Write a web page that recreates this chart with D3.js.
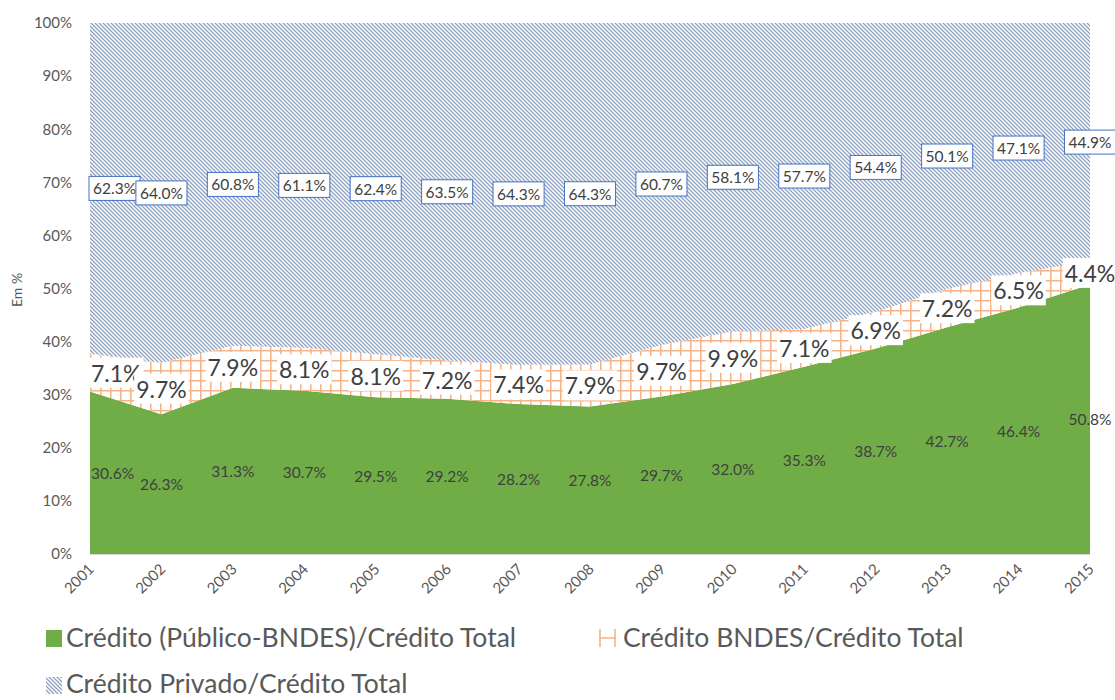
<!DOCTYPE html>
<html>
<head>
<meta charset="utf-8">
<script src="https://cdn.jsdelivr.net/npm/d3@7"></script>
<style>
  body { margin: 0; background: #fff; }
  text { font-family: Lato, "Open Sans", sans-serif; }
</style>
</head>
<body>
<div id="chart"></div>
<script>
// data
var years = ["2001","2002","2003","2004","2005","2006","2007","2008","2009","2010","2011","2012","2013","2014","2015"];
var publico = [30.6, 26.3, 31.3, 30.7, 29.5, 29.2, 28.2, 27.8, 29.7, 32.0, 35.3, 38.7, 42.7, 46.4, 50.8];
var bndes   = [7.1, 9.7, 7.9, 8.1, 8.1, 7.2, 7.4, 7.9, 9.7, 9.9, 7.1, 6.9, 7.2, 6.5, 4.4];
var privado = [62.3, 64.0, 60.8, 61.1, 62.4, 63.5, 64.3, 64.3, 60.7, 58.1, 57.7, 54.4, 50.1, 47.1, 44.9];
var seriesNames = ["Crédito (Público-BNDES)/Crédito Total", "Crédito BNDES/Crédito Total", "Crédito Privado/Crédito Total"];
var yTicks = [0, 0.1, 0.2, 0.3, 0.4, 0.5, 0.6, 0.7, 0.8, 0.9, 1];

var W = 1115, H = 700;
var x0 = 90, x1 = 1090, yBot = 554, yTop = 23;

var rows = years.map(function (yr, i) {
    return { year: yr, publico: publico[i], bndes: bndes[i], privado: privado[i] };
});
var keys = ["publico", "bndes", "privado"];

var stack = d3.stack().keys(keys).offset(d3.stackOffsetExpand);
var layers = stack(rows);

var x = d3.scalePoint().domain(years).range([x0, x1]);
var y = d3.scaleLinear().domain([0, 1]).range([yBot, yTop]);

var svg = d3.select("#chart").append("svg")
    .attr("width", W)
    .attr("height", H);

// patterns
var defs = svg.append("defs");
var diag = defs.append("pattern")
    .attr("id", "diag")
    .attr("patternUnits", "userSpaceOnUse")
    .attr("width", 4).attr("height", 4);
diag.append("rect").attr("width", 4).attr("height", 4).attr("fill", "#fff");
diag.append("path")
    .attr("d", "M-1,-1L5,5M-1,3L1,5M3,-1L5,1")
    .attr("stroke", "#8ea2c2")
    .attr("stroke-width", 1.3);

var grid = defs.append("pattern")
    .attr("id", "grid")
    .attr("patternUnits", "userSpaceOnUse")
    .attr("width", 10).attr("height", 10);
grid.append("rect").attr("width", 10).attr("height", 10).attr("fill", "#fff");
grid.append("path")
    .attr("d", "M0.75,0V10M0,0.75H10")
    .attr("stroke", "#f5b387")
    .attr("stroke-width", 1.6);

var fills = { publico: "#70ad47", bndes: "url(#grid)", privado: "url(#diag)" };

var area = d3.area()
    .x(function (d) { return x(d.data.year); })
    .y0(function (d) { return y(d[0]); })
    .y1(function (d) { return y(d[1]); });

svg.append("g").selectAll("path")
    .data(layers)
    .enter()
    .append("path")
    .attr("d", area)
    .attr("fill", function (d) { return fills[d.key]; });

// bottom axis line
svg.append("line")
    .attr("x1", x0).attr("x2", x1)
    .attr("y1", yBot + 0.5).attr("y2", yBot + 0.5)
    .attr("stroke", "#d9d9d9");

// y axis labels
var yAxis = d3.axisLeft(y).tickValues(yTicks).tickFormat(d3.format(".0%")).tickSize(0).tickPadding(18);
var gy = svg.append("g").attr("transform", "translate(" + x0 + ",0)").call(yAxis);
gy.select(".domain").remove();
gy.selectAll("text").attr("font-size", 15).attr("fill", "#595959")
    .style("font-family", "Lato, 'Open Sans', sans-serif");

// y axis title
svg.append("text")
    .attr("transform", "translate(22,290) rotate(-90)")
    .attr("text-anchor", "middle")
    .attr("font-size", 14)
    .attr("fill", "#595959")
    .text("Em %");

// x axis labels
svg.append("g").selectAll("text")
    .data(years)
    .enter()
    .append("text")
    .attr("transform", function (d) { return "translate(" + (x(d) + 5) + "," + (yBot + 16) + ") rotate(-45)"; })
    .attr("text-anchor", "end")
    .attr("font-size", 15)
    .attr("fill", "#595959")
    .text(function (d) { return d; });

// data labels
var fmt = function (v) { return v.toFixed(1) + "%"; };
var labelStyle = {
    publico: { size: 15.5, box: false, border: null },
    bndes:   { size: 23, box: true,  border: null },
    privado: { size: 15.5, box: true,  border: "#4472c4" }
};
var vals = { publico: publico, bndes: bndes, privado: privado };

layers.forEach(function (layer) {
    var st = labelStyle[layer.key];
    var g = svg.append("g");
    layer.forEach(function (d, i) {
        var cx = x(d.data.year);
        var cy = y((d[0] + d[1]) / 2);
        var lg = g.append("g");
        var rect = lg.append("rect");
        var t = lg.append("text")
            .attr("text-anchor", "middle")
            .attr("dominant-baseline", "central")
            .attr("font-size", st.size)
            .attr("fill", "#404040")
            .text(fmt(vals[layer.key][i]));
        t.attr("x", cx).attr("y", cy);
        var bb = t.node().getBBox();
        var padX = st.border ? 4 : 2, padY = st.border ? 3 : 1;
        var bw = bb.width + padX * 2, bh = bb.height + padY * 2;
        var left = cx - bw / 2;
        // keep the first labels inside the plot
        if (left < x0 - 1) {
            var shift = x0 - 1 - left;
            left += shift;
            t.attr("x", cx + shift);
        }
        if (st.box) {
            rect.attr("x", left).attr("y", cy - bh / 2)
                .attr("width", bw).attr("height", bh)
                .attr("fill", "#fff")
                .attr("stroke", st.border || "none")
                .attr("stroke-width", 1);
        } else {
            rect.remove();
        }
    });
});

// legend
var leg = svg.append("g");
leg.append("rect").attr("x", 46).attr("y", 630).attr("width", 16).attr("height", 17).attr("fill", "#70ad47");
leg.append("text").attr("x", 66).attr("y", 647).attr("font-size", 26.5).attr("fill", "#595959").text(seriesNames[0]);

leg.append("path")
    .attr("d", "M600,629V647M615,629V647M599,638H616")
    .attr("stroke", "#f5b387").attr("stroke-width", 1.6).attr("fill", "none");
leg.append("text").attr("x", 623).attr("y", 647).attr("font-size", 26.5).attr("fill", "#595959").text(seriesNames[1]);

leg.append("rect").attr("x", 46).attr("y", 677).attr("width", 16).attr("height", 17).attr("fill", "url(#diag)");
leg.append("text").attr("x", 66).attr("y", 693).attr("font-size", 26.5).attr("fill", "#595959").text(seriesNames[2]);
</script>
</body>
</html>
